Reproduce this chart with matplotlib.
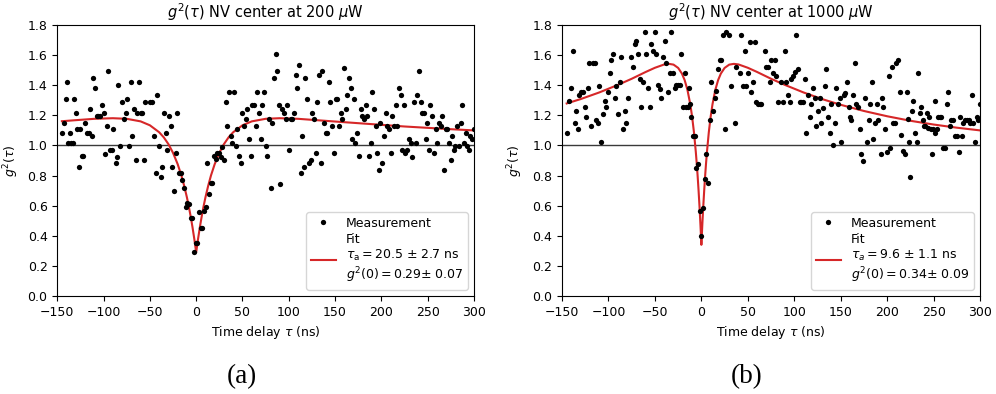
import matplotlib
matplotlib.use("Agg")
import matplotlib.pyplot as plt

# ---------------- data: panel (a) 200 uW ----------------
A_TAU = [-145.0, -143.0, -141.0, -139.3, -137.9, -136.0, -135.0, -133.0, -131.8, -130.0,
         -128.9, -127.0, -125.0, -123.5, -121.7, -119.9, -118.0, -116.0, -114.5, -112.7,
         -110.9, -109.0, -107.3, -105.5, -103.7, -101.9, -100.0, -98.0, -96.5, -94.7,
         -92.9, -91.0, -89.3, -87.0, -85.7, -83.9, -82.0, -80.0, -78.0, -76.3,
         -74.5, -72.7, -70.9, -69.0, -67.3, -65.5, -64.0, -62.0, -60.0, -58.3,
         -56.5, -55.4, -50.0, -48.1, -45.7, -43.9, -42.0, -40.3, -38.5, -36.7,
         -34.9, -33.0, -31.3, -29.5, -27.7, -25.9, -24.1, -22.3, -20.5, -18.7,
         -16.9, -15.1, -13.3, -11.5, -9.7, -7.9, -6.1, -4.3, -2.5, -0.7,
         1.1, 2.9, 5.0, 6.8, 8.3, 10.1, 11.9, 13.7, 15.5, 17.3,
         19.1, 20.9, 22.7, 24.5, 26.3, 28.1, 29.9, 31.7, 33.5, 35.3,
         37.1, 38.9, 40.7, 42.5, 44.3, 46.1, 47.9, 49.7, 51.5, 53.3,
         55.1, 56.9, 58.7, 60.5, 62.3, 64.1, 65.9, 67.7, 69.5, 71.3,
         73.1, 74.9, 76.7, 78.5, 80.3, 82.1, 83.9, 85.7, 87.5, 89.3,
         91.0, 92.9, 94.7, 96.5, 98.3, 100.0, 101.9, 103.7, 105.5, 107.3,
         109.0, 110.9, 112.7, 114.5, 116.3, 118.0, 119.9, 121.7, 123.5, 125.3,
         127.0, 128.9, 130.7, 132.5, 134.3, 136.0, 137.9, 139.7, 141.5, 143.3,
         145.0, 146.9, 148.7, 150.5, 152.3, 154.0, 155.9, 157.7, 159.5, 161.3,
         163.0, 164.9, 166.7, 168.5, 170.3, 172.0, 173.9, 175.7, 177.5, 179.3,
         181.0, 182.9, 184.7, 186.5, 188.3, 190.0, 191.9, 193.7, 195.5, 197.3,
         199.0, 200.9, 202.7, 204.5, 206.3, 208.0, 209.9, 211.7, 213.5, 215.3,
         217.0, 218.9, 220.7, 222.5, 224.3, 226.0, 227.9, 229.7, 231.5, 233.3,
         235.0, 236.9, 238.7, 240.5, 242.3, 244.0, 245.9, 247.7, 249.5, 251.3,
         253.0, 254.9, 256.7, 258.5, 260.3, 262.0, 263.9, 265.7, 267.5, 269.3,
         271.0, 272.9, 274.7, 276.5, 278.3, 280.0, 281.9, 283.7, 285.5, 287.3,
         289.0, 290.9, 292.7, 294.5, 296.2, 298.0, 299.9]
A_VAL = [1.085, 1.151, 1.310, 1.424, 1.018, 1.085, 1.018, 1.018, 1.310, 1.218,
         1.107, 0.859, 1.107, 0.930, 0.930, 1.151, 1.085, 1.085, 1.244, 1.063,
         1.446, 1.379, 1.195, 1.195, 1.195, 1.266, 1.218, 0.945, 1.129, 1.492,
         0.970, 0.970, 1.107, 0.881, 0.925, 1.401, 0.996, 1.288, 1.173, 1.218,
         1.310, 0.996, 1.424, 1.063, 1.244, 0.903, 1.218, 1.424, 1.218, 1.218,
         0.903, 1.288, 1.288, 1.288, 1.063, 0.815, 1.335, 0.996, 0.793, 0.859,
         1.218, 1.085, 0.970, 1.195, 1.129, 0.859, 0.700, 0.948, 1.218, 0.815,
         0.815, 0.770, 0.720, 0.589, 0.615, 0.610, 0.516, 0.516, 0.294, 0.350,
         0.350, 0.560, 0.450, 0.450, 0.567, 0.589, 0.881, 0.677, 0.748, 0.748,
         0.930, 0.908, 0.952, 0.948, 0.925, 0.992, 0.903, 1.288, 1.129, 1.357,
         1.063, 1.018, 1.357, 0.996, 1.107, 0.930, 0.881, 1.218, 1.129, 1.173,
         1.244, 1.041, 0.930, 1.266, 1.266, 1.129, 1.357, 1.218, 1.041, 1.266,
         1.357, 0.996, 0.930, 1.173, 0.720, 1.151, 1.446, 1.607, 1.492, 1.266,
         0.744, 1.244, 1.218, 1.173, 1.266, 0.970, 1.173, 1.173, 1.218, 1.468,
         1.379, 1.536, 0.815, 1.063, 0.859, 1.446, 1.310, 0.881, 0.903, 1.218,
         1.173, 0.948, 1.288, 1.468, 0.881, 1.492, 1.151, 1.085, 1.085, 1.424,
         1.288, 1.129, 0.948, 1.310, 1.310, 1.129, 1.218, 1.173, 1.514, 1.244,
         1.335, 1.446, 1.379, 1.041, 1.310, 1.018, 1.085, 0.930, 1.244, 1.195,
         1.173, 1.266, 1.195, 0.930, 1.018, 1.357, 1.244, 1.129, 0.948, 0.837,
         1.151, 0.881, 1.063, 1.218, 1.129, 1.107, 0.948, 1.195, 1.129, 1.266,
         1.129, 1.379, 1.335, 0.970, 1.266, 0.948, 0.970, 1.041, 1.018, 0.925,
         1.288, 1.018, 1.335, 1.492, 1.288, 1.218, 1.218, 1.041, 1.151, 0.970,
         1.266, 1.195, 0.948, 1.107, 1.018, 1.151, 1.129, 1.195, 0.837, 1.107,
         1.107, 1.018, 0.903, 1.063, 0.970, 0.996, 1.129, 0.996, 1.151, 1.266,
         1.018, 1.085, 0.996, 0.970, 1.063, 1.041, 1.107]

A_FIT_TAU = [-145, -130, -110, -90, -75, -60, -50, -40, -35, -30, -25, -20, -16, -13, -10,
             -8, -6, -4, -2, 0, 2, 4, 6, 8, 10, 13, 16, 20, 25, 30, 35, 40, 50, 60, 75,
             90, 110, 130, 150, 175, 200, 225, 250, 275, 300]
A_FIT_VAL = [1.161, 1.168, 1.177, 1.181, 1.177, 1.160, 1.134, 1.088, 1.054, 1.009, 0.951,
             0.876, 0.801, 0.733, 0.655, 0.596, 0.530, 0.458, 0.378, 0.290, 0.378, 0.458,
             0.530, 0.596, 0.655, 0.733, 0.801, 0.876, 0.951, 1.009, 1.054, 1.088, 1.134,
             1.160, 1.177, 1.181, 1.177, 1.168, 1.159, 1.148, 1.137, 1.126, 1.117, 1.108,
             1.100]

# ---------------- data: panel (b) 1000 uW ----------------
B_TAU = [-144.3, -142.1, -140.0, -138.5, -136.4, -134.6, -132.8, -131.3, -129.2, -127.4,
         -125.6, -123.8, -122.0, -120.6, -118.4, -116.3, -114.8, -113.4, -111.6, -109.8,
         -107.7, -106.2, -104.1, -102.3, -100.5, -98.7, -96.9, -95.1, -93.3, -91.5,
         -89.7, -87.9, -86.1, -84.3, -82.5, -80.7, -79.0, -75.4, -73.6, -71.8,
         -70.0, -68.2, -66.4, -64.6, -62.8, -61.0, -59.2, -57.4, -55.6, -53.8,
         -52.0, -50.2, -48.5, -46.7, -45.0, -43.1, -41.3, -39.5, -37.7, -35.9,
         -34.1, -32.3, -30.5, -28.7, -26.9, -25.1, -23.3, -21.5, -19.7, -17.9,
         -16.2, -14.4, -13.5, -12.6, -10.8, -9.0, -7.2, -5.4, -3.6, -1.8,
         0.0, 2.2, 3.6, 5.4, 7.2, 9.0, 10.8, 12.6, 14.4, 16.1,
         17.9, 19.7, 21.5, 23.3, 25.1, 26.9, 29.5, 32.3, 35.9, 37.7,
         41.3, 43.1, 44.9, 46.6, 48.4, 50.2, 52.0, 53.8, 55.6, 57.4,
         59.2, 61.0, 62.8, 64.6, 68.2, 70.0, 71.8, 73.6, 75.4, 77.1,
         78.9, 80.7, 82.5, 86.1, 87.9, 89.7, 91.5, 93.3, 95.1, 96.9,
         98.7, 100.5, 102.3, 104.1, 105.8, 107.6, 109.4, 111.2, 113.0, 114.8,
         116.6, 118.4, 120.2, 122.0, 123.8, 125.6, 127.4, 129.2, 131.0, 132.8,
         134.6, 136.3, 138.1, 139.9, 141.7, 143.5, 145.3, 147.1, 148.9, 150.7,
         153.6, 155.0, 157.1, 158.6, 160.0, 161.5, 163.6, 165.0, 166.8, 168.6,
         170.8, 172.2, 174.4, 176.5, 178.0, 180.1, 181.5, 183.7, 185.1, 186.6,
         188.7, 190.2, 193.0, 194.5, 195.9, 198.1, 199.5, 201.6, 203.1, 205.2,
         206.5, 208.0, 209.9, 211.7, 213.8, 215.3, 217.4, 218.9, 221.0, 222.4,
         223.2, 224.6, 226.8, 228.2, 230.3, 231.8, 233.2, 235.0, 236.8, 238.6,
         239.7, 241.1, 242.5, 244.0, 245.4, 246.8, 248.3, 249.7, 251.2, 251.9,
         253.3, 254.7, 256.5, 258.3, 260.5, 261.9, 264.1, 265.5, 267.7, 269.1,
         270.9, 273.4, 274.8, 277.0, 278.4, 280.6, 282.0, 284.2, 285.6, 287.8,
         289.2, 291.3, 292.8, 294.9, 296.4, 297.8, 300.0]
B_VAL = [1.085, 1.295, 1.379, 1.629, 1.147, 1.231, 1.107, 1.335, 1.357, 1.357,
         1.253, 1.191, 1.379, 1.545, 1.129, 1.545, 1.545, 1.169, 1.147, 1.397,
         1.021, 1.211, 1.295, 1.253, 1.357, 1.483, 1.567, 1.607, 1.317, 1.397,
         1.211, 1.419, 1.585, 1.107, 1.231, 1.147, 1.317, 1.585, 1.523, 1.671,
         1.694, 1.607, 1.441, 1.253, 1.419, 1.756, 1.607, 1.379, 1.253, 1.671,
         1.629, 1.756, 1.607, 1.400, 1.377, 1.317, 1.585, 1.694, 1.545, 1.357,
         1.483, 1.756, 1.483, 1.379, 1.400, 1.400, 1.400, 1.607, 1.253, 1.483,
         1.253, 1.253, 1.379, 1.275, 1.191, 1.065, 1.065, 0.852, 0.874, 0.565,
         0.398, 0.584, 0.775, 0.941, 0.750, 1.169, 1.419, 1.229, 1.315, 1.359,
         1.505, 1.567, 1.567, 1.733, 1.107, 1.756, 1.733, 1.397, 1.147, 1.523,
         1.479, 1.733, 1.397, 1.627, 1.397, 1.479, 1.689, 1.357, 1.419, 1.689,
         1.291, 1.273, 1.273, 1.273, 1.627, 1.523, 1.523, 1.419, 1.567, 1.479,
         1.567, 1.463, 1.291, 1.419, 1.291, 1.627, 1.419, 1.335, 1.291, 1.441,
         1.463, 1.490, 1.733, 1.505, 1.291, 1.291, 1.291, 1.441, 1.085, 1.335,
         1.189, 1.273, 1.379, 1.313, 1.129, 1.229, 1.313, 1.147, 1.251, 1.397,
         1.505, 1.189, 1.085, 1.273, 1.003, 1.147, 1.379, 1.273, 1.313, 1.021,
         1.335, 1.346, 1.419, 1.253, 1.191, 1.169, 1.335, 1.545, 1.275, 1.257,
         1.107, 0.941, 0.897, 1.317, 1.025, 1.169, 1.275, 1.419, 1.043, 1.147,
         1.275, 1.169, 0.941, 1.317, 1.257, 1.107, 0.959, 1.463, 0.981, 1.523,
         1.147, 1.147, 1.545, 1.567, 1.357, 1.069, 0.963, 0.941, 1.357, 1.173,
         1.025, 0.793, 1.231, 1.295, 1.085, 1.025, 1.483, 1.213, 1.257, 1.169,
         1.129, 1.129, 1.213, 1.113, 1.191, 1.107, 0.941, 1.107, 1.295, 1.085,
         1.107, 1.191, 1.191, 1.191, 0.981, 0.981, 1.273, 1.357, 1.129, 1.169,
         1.169, 1.065, 1.065, 0.959, 1.191, 1.065, 1.147, 1.169, 1.169, 1.169,
         1.147, 1.335, 1.147, 1.025, 1.191, 1.169, 1.275]

B_FIT_TAU = [-145, -130, -110, -90, -75, -60, -50, -40, -35, -30, -25, -21, -18, -15, -12,
             -10, -8, -6, -5, -4, -3, -2, -1, 0, 1, 2, 3, 4, 5, 6, 8, 10, 12, 15, 18, 21,
             25, 30, 35, 40, 50, 60, 75, 90, 110, 130, 150, 175, 200, 225, 250, 275, 300]
B_FIT_VAL = [1.279, 1.308, 1.352, 1.402, 1.443, 1.488, 1.516, 1.538, 1.542, 1.537, 1.515,
             1.478, 1.434, 1.369, 1.275, 1.192, 1.088, 0.957, 0.880, 0.794, 0.698, 0.592,
             0.473, 0.340, 0.473, 0.592, 0.698, 0.794, 0.880, 0.957, 1.088, 1.192, 1.275,
             1.369, 1.434, 1.478, 1.515, 1.537, 1.542, 1.538, 1.516, 1.488, 1.443, 1.402,
             1.352, 1.308, 1.270, 1.229, 1.194, 1.164, 1.139, 1.118, 1.100]

TITLES = [r"$g^2(\tau)$ NV center at 200 $\mu$W", r"$g^2(\tau)$ NV center at 1000 $\mu$W"]
FIT_LABELS = ["Fit\n" + r"$\tau_\mathrm{a} = 20.5$ ± 2.7 ns" + "\n" + r"$g^2(0) = 0.29$± 0.07",
              "Fit\n" + r"$\tau_a = 9.6$ ± 1.1 ns" + "\n" + r"$g^2(0) = 0.34$± 0.09"]
CAPTIONS = ["(a)", "(b)"]
XTICKS = [-150, -100, -50, 0, 50, 100, 150, 200, 250, 300]
YTICKS = [0.0, 0.2, 0.4, 0.6, 0.8, 1.0, 1.2, 1.4, 1.6, 1.8]

plt.rcParams['font.family'] = ['DejaVu Sans']
plt.rcParams['mathtext.fontset'] = 'dejavusans'
FS = 9

fig = plt.figure(figsize=(9.96, 3.94), dpi=100)
positions = [[0.0575, 0.2487, 0.4184, 0.6878], [0.5643, 0.2487, 0.4197, 0.6878]]
caption_x = [241.5 / 996, 746.5 / 996]

panels = [(A_TAU, A_VAL, A_FIT_TAU, A_FIT_VAL), (B_TAU, B_VAL, B_FIT_TAU, B_FIT_VAL)]
for i, (tau, val, ftau, fval) in enumerate(panels):
    ax = fig.add_axes(positions[i])
    ax.axhline(1.0, color='#3a3a3a', lw=1.0, zorder=1)
    ax.plot(tau, val, 'o', color='black', ms=3.8, mew=0, label='Measurement', zorder=3)
    ax.plot(ftau, fval, '-', color='#d62728', lw=1.5, label=FIT_LABELS[i], zorder=2)
    ax.set_xlim(-150, 300)
    ax.set_ylim(0.0, 1.8)
    ax.set_xticks(XTICKS)
    ax.set_yticks(YTICKS)
    ax.tick_params(labelsize=FS)
    ax.set_title(TITLES[i], fontsize=10.5, pad=5)
    ax.set_xlabel(r"Time delay $\tau$ (ns)", fontsize=FS)
    ax.set_ylabel(r"$g^2(\tau)$", fontsize=FS, labelpad=5)
    ax.legend(loc='lower right', fontsize=FS, labelspacing=0.25, borderpad=0.35)
    fig.text(caption_x[i], 1 - 377 / 394, CAPTIONS[i], ha='center', va='center',
             fontsize=19.5, family='Liberation Serif')

fig.savefig('out.png', dpi=100)
